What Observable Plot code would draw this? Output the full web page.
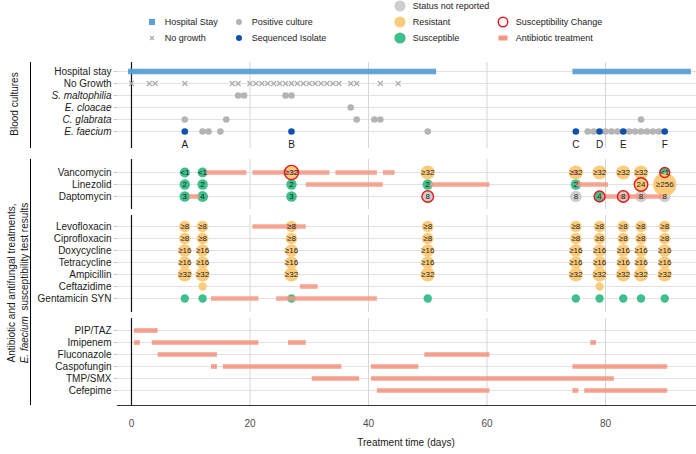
<!DOCTYPE html>
<html>
<head>
<meta charset="utf-8">
<script src="https://cdn.jsdelivr.net/npm/d3@7"></script>
<script src="https://cdn.jsdelivr.net/npm/@observablehq/plot@0.6"></script>
<style>
  html,body{margin:0;padding:0;background:#fff;}
  #root{position:relative;width:696px;height:454px;overflow:hidden;font-family:"Liberation Sans",Arial,Helvetica,sans-serif;color:#1a1a1a;}
  #root svg{overflow:visible;}
  .panel{position:absolute;left:0;}
  .lgtext{position:absolute;font-size:9px;color:#222;white-space:nowrap;transform:translateY(-50%);line-height:1;}
  .lgkey{position:absolute;transform:translate(-50%,-50%);display:block;}
  .strip{position:absolute;left:30px;width:1.3px;background:#000;}
  .rot{position:absolute;transform:translate(-50%,-50%) rotate(-90deg);white-space:nowrap;font-size:10px;text-align:center;line-height:13px;color:#1a1a1a;}
  .xtitle{position:absolute;font-size:10px;color:#1a1a1a;transform:translate(-50%,-50%);white-space:nowrap;}
</style>
</head>
<body>
<div id="root"></div>
<script>
// ================= DATA =================
const xTicks = [0, 20, 40, 60, 80];

// Blood cultures panel
const cultureRows = ["Hospital stay", "No Growth", "S. maltophilia", "E. cloacae", "C. glabrata", "E. faecium"];
const italicRows = ["S. maltophilia", "E. cloacae", "C. glabrata", "E. faecium"];
const hospitalStays = [
  {start: -0.5, end: 51.5},
  {start: 74.5, end: 94.5}
];
const noGrowthDays = [0, 3, 4, 9, 17, 18, 20, 21, 22, 23, 24, 25, 26, 27, 28, 29, 30, 31, 32, 33, 34, 35, 37, 38, 42, 45];
const positiveCultures = [
  {organism: "S. maltophilia", day: 18}, {organism: "S. maltophilia", day: 19},
  {organism: "S. maltophilia", day: 26}, {organism: "S. maltophilia", day: 27},
  {organism: "E. cloacae", day: 37},
  {organism: "C. glabrata", day: 9}, {organism: "C. glabrata", day: 16},
  {organism: "C. glabrata", day: 38}, {organism: "C. glabrata", day: 41},
  {organism: "C. glabrata", day: 42}, {organism: "C. glabrata", day: 86},
  {organism: "E. faecium", day: 12}, {organism: "E. faecium", day: 13},
  {organism: "E. faecium", day: 15}, {organism: "E. faecium", day: 50},
  {organism: "E. faecium", day: 77}, {organism: "E. faecium", day: 78},
  {organism: "E. faecium", day: 80}, {organism: "E. faecium", day: 81},
  {organism: "E. faecium", day: 82}, {organism: "E. faecium", day: 84},
  {organism: "E. faecium", day: 85}, {organism: "E. faecium", day: 86},
  {organism: "E. faecium", day: 87}, {organism: "E. faecium", day: 88},
  {organism: "E. faecium", day: 89}
];
const sequencedIsolates = [
  {isolate: "A", day: 9}, {isolate: "B", day: 27}, {isolate: "C", day: 75},
  {isolate: "D", day: 79}, {isolate: "E", day: 83}, {isolate: "F", day: 90}
];

// Susceptibility panels
const lastResortRows = ["Vancomycin", "Linezolid", "Daptomycin"];
const panelRows = ["Levofloxacin", "Ciprofloxacin", "Doxycycline", "Tetracycline", "Ampicillin", "Ceftazidime", "Gentamicin SYN"];
// [drug, day, status (R/S/N = not reported), MIC label, susceptibility change]
const lastResortTests = [
  ["Vancomycin", 9, "S", "<1", 0], ["Vancomycin", 12, "S", "<1", 0], ["Vancomycin", 27, "R", "≥32", 1],
  ["Vancomycin", 50, "R", "≥32", 0], ["Vancomycin", 75, "R", "≥32", 0], ["Vancomycin", 79, "R", "≥32", 0],
  ["Vancomycin", 83, "R", "≥32", 0], ["Vancomycin", 86, "R", "≥32", 0], ["Vancomycin", 90, "S", "<1", 1],
  ["Linezolid", 9, "S", "2", 0], ["Linezolid", 12, "S", "2", 0], ["Linezolid", 27, "S", "2", 0],
  ["Linezolid", 50, "S", "2", 0], ["Linezolid", 75, "S", "2", 0], ["Linezolid", 86, "R", "24", 1],
  ["Linezolid", 90, "R", "≥256", 0],
  ["Daptomycin", 9, "S", "3", 0], ["Daptomycin", 12, "S", "4", 0], ["Daptomycin", 27, "S", "3", 0],
  ["Daptomycin", 50, "N", "8", 1], ["Daptomycin", 75, "N", "8", 0], ["Daptomycin", 79, "S", "4", 1],
  ["Daptomycin", 83, "N", "8", 1], ["Daptomycin", 86, "N", "8", 0], ["Daptomycin", 90, "N", "8", 0]
];
const panelTestDays = [9, 12, 27, 50, 75, 79, 83, 86, 90];
const resistantPanelDrugs = ["Levofloxacin", "Ciprofloxacin", "Doxycycline", "Tetracycline", "Ampicillin"];
const resistantPanelLabels = ["≥8", "≥8", "≥16", "≥16", "≥32"];
const ceftazidimeResistantDays = [12, 79];
const gentamicinSusceptibleDays = [9, 12, 27, 50, 75, 79, 83, 86, 90];

// Treatments panel
const treatmentRows = ["PIP/TAZ", "Imipenem", "Fluconazole", "Caspofungin", "TMP/SMX", "Cefepime"];
const treatments = [
  {drug: "Vancomycin", start: 12.5, end: 19.5}, {drug: "Vancomycin", start: 20.5, end: 33.5},
  {drug: "Vancomycin", start: 34.5, end: 41.5}, {drug: "Vancomycin", start: 42.5, end: 44.5},
  {drug: "Vancomycin", start: 74.5, end: 75.5},
  {drug: "Linezolid", start: 29.5, end: 42.5}, {drug: "Linezolid", start: 50.5, end: 60.5},
  {drug: "Linezolid", start: 75, end: 80.5},
  {drug: "Daptomycin", start: 9.8, end: 11.5}, {drug: "Daptomycin", start: 79, end: 90},
  {drug: "Levofloxacin", start: 20.5, end: 29.5},
  {drug: "Ceftazidime", start: 28.5, end: 31.5},
  {drug: "Gentamicin SYN", start: 13.5, end: 21.5}, {drug: "Gentamicin SYN", start: 24.5, end: 41.5},
  {drug: "PIP/TAZ", start: 0.5, end: 4.5},
  {drug: "Imipenem", start: 0.5, end: 1.5}, {drug: "Imipenem", start: 3.5, end: 21.5},
  {drug: "Imipenem", start: 26.5, end: 29.5}, {drug: "Imipenem", start: 77.5, end: 78.5},
  {drug: "Fluconazole", start: 4.5, end: 14.5}, {drug: "Fluconazole", start: 49.5, end: 60.5},
  {drug: "Caspofungin", start: 13.5, end: 14.5}, {drug: "Caspofungin", start: 15.5, end: 35.5},
  {drug: "Caspofungin", start: 40.5, end: 48.5}, {drug: "Caspofungin", start: 74.5, end: 90.5},
  {drug: "TMP/SMX", start: 30.5, end: 38.5}, {drug: "TMP/SMX", start: 40.5, end: 81.5},
  {drug: "Cefepime", start: 41.5, end: 60.5}, {drug: "Cefepime", start: 74.5, end: 75.5},
  {drug: "Cefepime", start: 76.5, end: 90.5}
];

// ================= STYLE =================
const C = {
  hospital: "#5a9fd6", noGrowth: "#aaaaaa", positive: "#b4b4b4", sequenced: "#0b52b0",
  R: "#fdcb7c", S: "#3ebf8b", N: "#cdcdcd", change: "#e3191c", treat: "#f59682",
  grid: "#e2e2e2", vgrid: "#d6d6d6"
};
const FONT = "'Liberation Sans', Arial, Helvetica, sans-serif";

// build test records
const toRec = ([drug, day, status, label, change]) =>
  ({drug, day, status, label, change: !!change, mic: +label.replace(/[^0-9]/g, "")});
const testsA = lastResortTests.map(toRec);
const testsB = resistantPanelDrugs.flatMap((drug, i) =>
  panelTestDays.map(day => toRec([drug, day, "R", resistantPanelLabels[i], 0])));
const smallB = [
  ...ceftazidimeResistantDays.map(day => ({drug: "Ceftazidime", day, status: "R"})),
  ...gentamicinSusceptibleDays.map(day => ({drug: "Gentamicin SYN", day, status: "S"}))
];

const root = document.getElementById("root");

function panel({rows, top, height, yRange, marks, bottomAxis = false, mt = 4, mb = 2}) {
  const plain = rows.filter(r => !italicRows.includes(r));
  const ital = rows.filter(r => italicRows.includes(r));
  const axisOpts = {tickSize: 3, tickPadding: 3, fontSize: 10, fill: "#1a1a1a", stroke: "#c4c4c4", label: null};
  const all = [
    Plot.gridY({stroke: C.grid, strokeOpacity: 1, strokeWidth: 1}),
    Plot.gridX(xTicks.filter(t => t !== 0), {stroke: C.vgrid, strokeOpacity: 1, strokeWidth: 1}),
    Plot.ruleX([0], {stroke: "#111", strokeWidth: 1.2}),
    ...marks,
    Plot.axisY({...axisOpts, ticks: plain})
  ];
  if (ital.length) all.push(Plot.axisY({...axisOpts, ticks: ital, fontStyle: "italic"}));
  if (bottomAxis) {
    all.push(Plot.frame({anchor: "bottom", stroke: "#333", strokeWidth: 1.2}));
    all.push(Plot.axisX({ticks: xTicks, tickSize: 0, tickPadding: 14, fontSize: 10, fill: "#4d4d4d", label: null}));
  }
  const svg = Plot.plot({
    width: 696, height,
    marginLeft: 117, marginRight: 0, marginTop: mt, marginBottom: mb,
    x: {domain: [-2.36, 95.36], ...(bottomAxis ? {} : {axis: null})},
    y: {type: "point", domain: rows, range: yRange, padding: 0},
    r: {type: "sqrt", domain: [1, 256], range: [5, 11.7]},
    style: {fontFamily: FONT, fontSize: "10px", background: "transparent", color: "#1a1a1a"},
    marks: all
  });
  svg.classList.add("panel");
  svg.style.top = top + "px";
  root.appendChild(svg);
}

function susceptibilityMarks(tests, small, treats) {
  const m = [];
  for (const s of ["N", "S", "R"]) {
    m.push(Plot.dot(small.filter(d => d.status === s), {x: "day", y: "drug", r: 4.2, fill: C[s]}));
  }
  for (const s of ["N", "S", "R"]) {
    m.push(Plot.dot(tests.filter(d => d.status === s), {x: "day", y: "drug", r: "mic", fill: C[s]}));
  }
  m.push(Plot.ruleY(treats, {y: "drug", x1: "start", x2: "end", stroke: C.treat, strokeWidth: 4.6, strokeOpacity: 0.85}));
  m.push(Plot.dot(tests.filter(d => d.change), {x: "day", y: "drug", r: "mic", stroke: C.change, strokeWidth: 1.4, fill: "none"}));
  m.push(Plot.text(tests, {x: "day", y: "drug", text: "label", fontSize: 8, fill: "#222"}));
  return m;
}

// Panel 1: blood cultures
panel({
  rows: cultureRows, top: 56, height: 94, mt: 6, mb: 2, yRange: [13, 76],
  marks: [
    Plot.ruleY(hospitalStays, {y: () => "Hospital stay", x1: "start", x2: "end", stroke: C.hospital, strokeWidth: 5.5, strokeOpacity: 0.95}),
    Plot.dot(noGrowthDays, {x: d => d, y: () => "No Growth", symbol: "times", r: 2.4, stroke: C.noGrowth, strokeWidth: 1.1}),
    Plot.dot(positiveCultures, {x: "day", y: "organism", r: 3.3, fill: C.positive}),
    Plot.dot(sequencedIsolates, {x: "day", y: () => "E. faecium", r: 3.3, fill: C.sequenced}),
    Plot.text(sequencedIsolates, {x: "day", y: () => "E. faecium", text: "isolate", dy: 13, fontSize: 10, fill: "#1a1a1a"})
  ]
});

// Panel 2a: last-resort antibiotics
panel({
  rows: lastResortRows, top: 155, height: 56, yRange: [16.3, 41.3],
  marks: susceptibilityMarks(testsA, [], treatments.filter(d => lastResortRows.includes(d.drug)))
});

// Panel 2b: routine panel
panel({
  rows: panelRows, top: 211, height: 103, yRange: [13.3, 89],
  marks: susceptibilityMarks(testsB, smallB, treatments.filter(d => panelRows.includes(d.drug)))
});

// Panel 3: other treatments
panel({
  rows: treatmentRows, top: 314, height: 140, mb: 49, yRange: [14.3, 77.7], bottomAxis: true,
  marks: [
    Plot.ruleY(treatments.filter(d => treatmentRows.includes(d.drug)), {y: "drug", x1: "start", x2: "end", stroke: C.treat, strokeWidth: 4.6, strokeOpacity: 0.9})
  ]
});

// Axis title
const xt = document.createElement("div");
xt.className = "xtitle"; xt.style.left = "406px"; xt.style.top = "442px";
xt.textContent = "Treatment time (days)";
root.appendChild(xt);

// Strip lines and rotated labels
function addDiv(cls, styles, html) {
  const d = document.createElement("div");
  d.className = cls; Object.assign(d.style, styles);
  if (html != null) d.innerHTML = html;
  root.appendChild(d); return d;
}
addDiv("strip", {top: "62px", height: "86px"});
addDiv("strip", {top: "159px", height: "246px"});
addDiv("rot", {left: "14px", top: "104px"}, "Blood cultures");
addDiv("rot", {left: "17.5px", top: "283px"}, "Antibiotic and antifungal treatments,<br><i>E. faecium</i>&nbsp; susceptibility test results");

// Legend
const legendItems = [
  {x: 152, y: 22, key: `<rect x="3" y="3" width="6" height="6" fill="${C.hospital}"/>`, text: "Hospital Stay"},
  {x: 152, y: 38, key: `<path d="M4,4L8,8M8,4L4,8" stroke="${C.noGrowth}" stroke-width="1.1"/>`, text: "No growth"},
  {x: 239, y: 22, key: `<circle cx="6" cy="6" r="3" fill="${C.positive}"/>`, text: "Positive culture"},
  {x: 239, y: 38, key: `<circle cx="6" cy="6" r="3" fill="${C.sequenced}"/>`, text: "Sequenced Isolate"},
  {x: 400, y: 6, key: `<circle cx="6" cy="6" r="5.6" fill="${C.N}"/>`, text: "Status not reported"},
  {x: 400, y: 22, key: `<circle cx="6" cy="6" r="5.6" fill="${C.R}"/>`, text: "Resistant"},
  {x: 400, y: 38, key: `<circle cx="6" cy="6" r="5.6" fill="${C.S}"/>`, text: "Susceptible"},
  {x: 503, y: 22, key: `<circle cx="6" cy="6" r="4.8" fill="none" stroke="${C.change}" stroke-width="1.4"/>`, text: "Susceptibility Change"},
  {x: 503, y: 38, key: `<rect x="1.5" y="3.5" width="9" height="5" fill="${C.treat}"/>`, text: "Antibiotic treatment"}
];
for (const it of legendItems) {
  const k = document.createElementNS("http://www.w3.org/2000/svg", "svg");
  k.setAttribute("width", 12); k.setAttribute("height", 12);
  k.setAttribute("class", "lgkey");
  k.style.left = it.x + "px"; k.style.top = it.y + "px";
  k.innerHTML = it.key;
  root.appendChild(k);
  addDiv("lgtext", {left: (it.x + (it.x === 400 ? 12.7 : 12.8)) + "px", top: it.y + "px"}, null).textContent = it.text;
}
</script>
</body>
</html>
